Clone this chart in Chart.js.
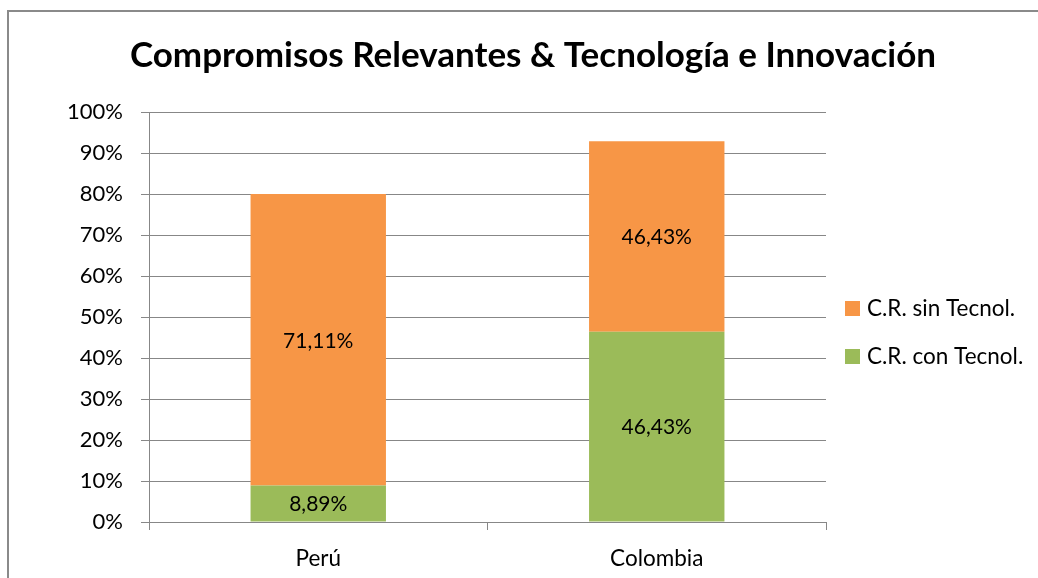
<!DOCTYPE html>
<html>
<head>
<meta charset="utf-8">
<script src="https://cdn.jsdelivr.net/npm/chart.js@4/dist/chart.umd.min.js"></script>
<style>
  html, body { margin: 0; padding: 0; background: #fff; }
  #marco { position: absolute; left: 7px; top: 10px; width: 1200px; height: 700px;
           border: 2px solid #8a8a8a; box-sizing: border-box; }
  #grafico { position: absolute; left: 0; top: 0; }
</style>
</head>
<body>
<div id="marco"></div>
<canvas id="grafico" width="1038" height="578"></canvas>
<script>
/* datos */
const TITULO = "Compromisos Relevantes & Tecnología e Innovación";
const PAISES = ["Perú", "Colombia"];
const CON_TECNOL = [8.89, 46.43];
const SIN_TECNOL = [71.11, 46.43];
const SERIES = ["C.R. con Tecnol.", "C.R. sin Tecnol."];
const TICKS_Y = [0, 10, 20, 30, 40, 50, 60, 70, 80, 90, 100];

const FUENTE = "Lato, 'Noto Sans', sans-serif";
const GRIS = "#878787";
const VERDE = "#9BBB59";
const NARANJA = "#F79646";

function fmtPct(v) {
  return v.toFixed(2).replace(".", ",") + "%";
}

/* título, etiquetas de datos y leyenda dibujados a mano */
const extrasPlugin = {
  id: "extras",
  afterDatasetsDraw(chart) {
    const ctx = chart.ctx;
    ctx.save();
    ctx.font = "21px " + FUENTE;
    ctx.fillStyle = "#000";
    ctx.textAlign = "center";
    ctx.textBaseline = "middle";
    chart.data.datasets.forEach((ds, di) => {
      chart.getDatasetMeta(di).data.forEach((bar, i) => {
        const p = bar.getProps(["x", "y", "base"], true);
        ctx.fillText(fmtPct(ds.data[i]), p.x, (p.y + p.base) / 2 + 1);
      });
    });
    ctx.restore();
  },
  afterDraw(chart) {
    const ctx = chart.ctx;
    ctx.save();
    // título
    ctx.font = "bold 35px " + FUENTE;
    ctx.fillStyle = "#000";
    ctx.textAlign = "center";
    ctx.textBaseline = "alphabetic";
    ctx.fillText(TITULO, 533, 67);

    // leyenda (orden invertido: sin Tecnol. arriba)
    const items = chart.data.datasets.map(ds => ({ txt: ds.label, col: ds.backgroundColor })).reverse();
    ctx.font = "22.5px " + FUENTE;
    ctx.textAlign = "left";
    ctx.textBaseline = "middle";
    items.forEach((it, i) => {
      const cy = 309 + i * 48;
      ctx.fillStyle = it.col;
      ctx.fillRect(845, cy - 8, 15, 15);
      ctx.fillStyle = "#000";
      ctx.fillText(it.txt, 867, cy);
    });
    ctx.restore();
  }
};

const ctx = document.getElementById("grafico").getContext("2d");

new Chart(ctx, {
  type: "bar",
  data: {
    labels: PAISES,
    datasets: [
      { label: SERIES[0], data: CON_TECNOL, backgroundColor: VERDE, barPercentage: 0.4, categoryPercentage: 1.0 },
      { label: SERIES[1], data: SIN_TECNOL, backgroundColor: NARANJA, barPercentage: 0.4, categoryPercentage: 1.0 }
    ]
  },
  options: {
    responsive: false,
    animation: false,
    layout: { padding: { left: 0, top: 112, right: 212, bottom: 0 } },
    plugins: {
      legend: { display: false },
      title: { display: false },
      tooltip: { enabled: false }
    },
    scales: {
      x: {
        stacked: true,
        afterFit: s => { s.height = 56; },
        grid: { offset: true, drawOnChartArea: false, drawTicks: true, tickLength: 8, color: GRIS, lineWidth: 1 },
        border: { color: GRIS, width: 1 },
        ticks: { color: "#000", font: { family: FUENTE, size: 22.5 }, padding: 15 }
      },
      y: {
        stacked: true,
        min: 0,
        max: 100,
        afterFit: s => { s.width = 149; },
        afterBuildTicks: s => { s.ticks = TICKS_Y.map(v => ({ value: v })); },
        grid: { color: GRIS, lineWidth: 1, tickLength: 8 },
        border: { color: GRIS, width: 1 },
        ticks: {
          color: "#000",
          font: { family: FUENTE, size: 22 },
          padding: 18,
          callback: v => v + "%"
        }
      }
    }
  },
  plugins: [extrasPlugin]
});
</script>
</body>
</html>
